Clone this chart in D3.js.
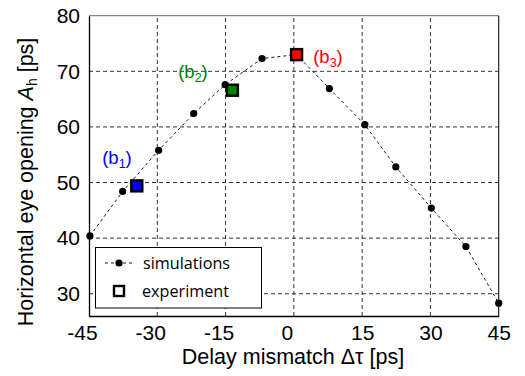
<!DOCTYPE html>
<html>
<head>
<meta charset="utf-8">
<script src="https://cdn.jsdelivr.net/npm/d3@7"></script>
<style>
  body { margin: 0; background: #fff; }
  svg { display: block; font-family: "Liberation Sans", Arial, sans-serif; }
</style>
</head>
<body>
<div id="chart"></div>
<script>
// simulation points (delay mismatch, eye opening)
var simX = [-44.8, -37.6, -29.7, -22.0, -15.1, -7.0, 0.6, 7.8, 15.6, 22.4, 30.2, 37.8, 45.0];
var simY = [40.4, 48.4, 55.8, 62.4, 67.6, 72.3, 73.0, 66.9, 60.4, 52.8, 45.4, 38.5, 28.3];

// experiment points
var expX = [-34.5, -13.5, 0.6];
var expY = [49.4, 66.6, 73.0];
var expColor = ['#0000ff', '#008000', '#ff0000'];
var expLabel = ['1', '2', '3'];

var xTicks = [-45, -30, -15, 0, 15, 30, 45];
var yTicks = [30, 40, 50, 60, 70, 80];

var width = 525, height = 376;
var margin = { top: 15.7, right: 26.3, bottom: 60, left: 89 };

var svg = d3.select('#chart').append('svg')
  .attr('width', width)
  .attr('height', height);

var x = d3.scaleLinear().domain([-45, 45]).range([margin.left, width - margin.right]);
var y = d3.scaleLinear().domain([26, 80]).range([height - margin.bottom, margin.top]);

// grid
var grid = svg.append('g').attr('stroke', '#333').attr('stroke-width', 1).attr('stroke-dasharray', '4,3');
grid.selectAll('.gx').data(xTicks.slice(1, -1)).enter().append('line')
  .attr('x1', function (d) { return x(d); })
  .attr('x2', function (d) { return x(d); })
  .attr('y1', y(26)).attr('y2', y(80));
grid.selectAll('.gy').data(yTicks.slice(0, -1)).enter().append('line')
  .attr('x1', x(-45)).attr('x2', x(45))
  .attr('y1', function (d) { return y(d); })
  .attr('y2', function (d) { return y(d); });

// frame
svg.append('line').attr('x1', x(-45)).attr('x2', x(45)).attr('y1', y(80)).attr('y2', y(80))
  .attr('stroke', '#888').attr('stroke-width', 1.2);
svg.append('line').attr('x1', x(45)).attr('x2', x(45)).attr('y1', y(80)).attr('y2', y(26))
  .attr('stroke', '#222').attr('stroke-width', 1.2);

// axes
var xAxis = svg.append('g')
  .attr('transform', 'translate(0,' + y(26) + ')')
  .call(d3.axisBottom(x).tickValues(xTicks).tickSize(0).tickPadding(9).tickFormat(d3.format('d')));
xAxis.select('.domain').attr('stroke', '#000').attr('stroke-width', 1.3);
xAxis.selectAll('text')
  .attr('font-size', 21).attr('fill', '#000')
  .attr('font-family', '"Liberation Sans", Arial, sans-serif')
  .attr('dx', function (d) { return d <= 0 ? -7 : 0; })
  .text(function (d) { return d < 0 ? '-' + Math.abs(d) : d; });

var yAxis = svg.append('g')
  .attr('transform', 'translate(' + x(-45) + ',0)')
  .call(d3.axisLeft(y).tickValues(yTicks).tickSize(0).tickPadding(9));
yAxis.select('.domain').attr('stroke', '#000').attr('stroke-width', 1.3);
yAxis.selectAll('text')
  .attr('font-size', 21).attr('fill', '#000')
  .attr('font-family', '"Liberation Sans", Arial, sans-serif');

// axis titles
svg.append('text')
  .attr('x', 293).attr('y', 364)
  .attr('text-anchor', 'middle')
  .attr('font-size', 21.5)
  .text('Delay mismatch \u0394\u03c4 [ps]');

var yt = svg.append('text')
  .attr('transform', 'translate(33,' + 182 + ') rotate(-90)')
  .attr('text-anchor', 'middle')
  .attr('font-size', 21.5);
yt.append('tspan').text('Horizontal eye opening ');
yt.append('tspan').attr('font-style', 'italic').text('A');
yt.append('tspan').attr('font-size', 14).attr('dy', 4).text('h');
yt.append('tspan').attr('dy', -4).text(' [ps]');

// simulation line + dots
var line = d3.line()
  .x(function (d, i) { return x(simX[i]); })
  .y(function (d) { return y(d); });

svg.append('path')
  .datum(simY)
  .attr('fill', 'none')
  .attr('stroke', '#000')
  .attr('stroke-width', 0.9)
  .attr('stroke-dasharray', '3,3')
  .attr('d', line);

svg.selectAll('.sim').data(simY).enter().append('circle')
  .attr('cx', function (d, i) { return x(simX[i]); })
  .attr('cy', function (d) { return y(d); })
  .attr('r', 3.6)
  .attr('fill', '#000');

// experiment squares
var sq = 11;
svg.selectAll('.exp').data(expY).enter().append('rect')
  .attr('x', function (d, i) { return x(expX[i]) - sq / 2; })
  .attr('y', function (d) { return y(d) - sq / 2; })
  .attr('width', sq).attr('height', sq)
  .attr('fill', function (d, i) { return expColor[i]; })
  .attr('stroke', '#000')
  .attr('stroke-width', 2.4);

// (b) labels
var labPos = [[117, 164], [193, 78], [328, 63]];
labPos.forEach(function (p, i) {
  var t = svg.append('text')
    .attr('x', p[0]).attr('y', p[1])
    .attr('text-anchor', 'middle')
    .attr('font-size', 18.5)
    .attr('fill', expColor[i]);
  t.append('tspan').text('(b');
  t.append('tspan').attr('font-size', 12.5).attr('dy', 4).text(expLabel[i]);
  t.append('tspan').attr('dy', -4).text(')');
});

// legend
var lg = svg.append('g');
lg.append('rect')
  .attr('x', 95.5).attr('y', 247.5).attr('width', 166).attr('height', 60.5)
  .attr('fill', '#fff').attr('stroke', '#000').attr('stroke-width', 1);
lg.append('line')
  .attr('x1', 105).attr('x2', 134).attr('y1', 263).attr('y2', 263)
  .attr('stroke', '#000').attr('stroke-width', 0.9).attr('stroke-dasharray', '3,3');
lg.append('circle').attr('cx', 119).attr('cy', 263).attr('r', 3.6).attr('fill', '#000');
lg.append('rect')
  .attr('x', 114).attr('y', 286).attr('width', 10).attr('height', 10)
  .attr('fill', '#fff').attr('stroke', '#000').attr('stroke-width', 2.4);
lg.append('text').attr('x', 143).attr('y', 269)
  .attr('font-family', '"Open Sans", "Noto Sans", sans-serif').attr('font-size', 16.2)
  .text('simulations');
lg.append('text').attr('x', 142).attr('y', 297)
  .attr('font-family', '"Open Sans", "Noto Sans", sans-serif').attr('font-size', 16.2)
  .text('experiment');
</script>
</body>
</html>
